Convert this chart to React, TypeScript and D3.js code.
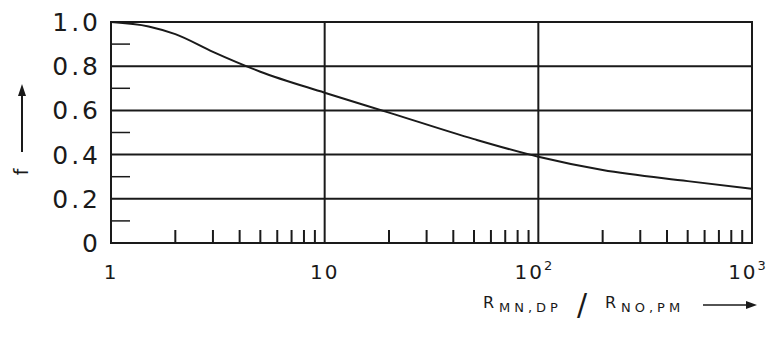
import * as d3 from "d3";
import { useEffect, useRef } from "react";

const ratios = [1, 1.5, 2, 3, 5, 10, 20, 50, 100, 200, 500, 1000];
const fValues = [1.0, 0.98, 0.945, 0.865, 0.775, 0.68, 0.59, 0.47, 0.39, 0.33, 0.28, 0.245];
const yTicks = [0, 0.2, 0.4, 0.6, 0.8, 1.0];
const yMinor = [0.1, 0.3, 0.5, 0.7, 0.9];
const xDecades = [1, 10, 100, 1000];
const xLabels = ["1", "10", "10", "10"];
const xSups = ["", "", "2", "3"];

const W = 782;
const H = 337;
const left = 111;
const right = 752;
const top = 22;
const bottom = 243;
const ink = "#1a1a1a";

export default function App() {
    const svgRef = useRef<SVGSVGElement>(null);

    useEffect(() => {
        if (svgRef.current) drawChart();
    }, [svgRef]);

    const drawChart = () => {
        const svg = d3.select(svgRef.current);
        svg.selectAll("*").remove();

        const scaleX = d3.scaleLog().domain([1, 1000]).range([left, right]);
        const scaleY = d3.scaleLinear().domain([0, 1]).range([bottom, top]);

        const g = svg.append("g");

        // horizontal grid lines
        g.selectAll("line.hgrid")
            .data(yTicks.slice(1))
            .enter()
            .append("line")
            .attr("x1", left)
            .attr("x2", right)
            .attr("y1", (d) => scaleY(d))
            .attr("y2", (d) => scaleY(d))
            .attr("stroke", ink)
            .attr("stroke-width", 2);

        // vertical grid lines at decades
        g.selectAll("line.vgrid")
            .data([10, 100])
            .enter()
            .append("line")
            .attr("x1", (d) => scaleX(d))
            .attr("x2", (d) => scaleX(d))
            .attr("y1", top)
            .attr("y2", bottom)
            .attr("stroke", ink)
            .attr("stroke-width", 2);

        // frame
        g.append("rect")
            .attr("x", left)
            .attr("y", top)
            .attr("width", right - left)
            .attr("height", bottom - top)
            .attr("fill", "none")
            .attr("stroke", ink)
            .attr("stroke-width", 2);

        // left minor ticks (inward)
        g.selectAll("line.yminor")
            .data(yMinor)
            .enter()
            .append("line")
            .attr("x1", left)
            .attr("x2", left + 19)
            .attr("y1", (d) => scaleY(d))
            .attr("y2", (d) => scaleY(d))
            .attr("stroke", ink)
            .attr("stroke-width", 1.5);

        // bottom minor ticks 2..9 per decade (inward)
        const minors: number[] = [];
        [1, 10, 100].forEach((dec) => {
            for (let k = 2; k <= 9; k++) minors.push(dec * k);
        });
        g.selectAll("line.xminor")
            .data(minors)
            .enter()
            .append("line")
            .attr("x1", (d) => scaleX(d))
            .attr("x2", (d) => scaleX(d))
            .attr("y1", bottom)
            .attr("y2", bottom - 13)
            .attr("stroke", ink)
            .attr("stroke-width", 2);

        // y tick labels
        g.selectAll("text.ylab")
            .data(yTicks)
            .enter()
            .append("text")
            .attr("x", 101)
            .attr("y", (d) => scaleY(d) + 9)
            .attr("text-anchor", "end")
            .attr("font-family", "DejaVu Sans")
            .attr("font-size", 25)
            .attr("letter-spacing", 3)
            .attr("fill", ink)
            .text((d) => (d === 0 ? "0" : d.toFixed(1)));

        // x tick labels
        xDecades.forEach((d, i) => {
            const t = g
                .append("text")
                .attr("x", scaleX(d) - (xSups[i] ? 4 : 0))
                .attr("y", 279)
                .attr("text-anchor", "middle")
                .attr("font-family", "DejaVu Sans")
                .attr("font-size", 20)
                .attr("letter-spacing", 2)
                .attr("fill", ink);
            t.append("tspan").text(xLabels[i]);
            if (xSups[i]) {
                t.append("tspan")
                    .attr("dy", -9)
                    .attr("font-size", 13)
                    .text(xSups[i]);
            }
        });

        // curve
        const line = d3
            .line<number>()
            .x((d, i) => scaleX(ratios[i]))
            .y((d) => scaleY(d))
            .curve(d3.curveMonotoneX);
        g.append("path")
            .datum(fValues)
            .attr("fill", "none")
            .attr("stroke", ink)
            .attr("stroke-width", 2)
            .attr("d", line);

        // y axis label: f with arrow up
        g.append("text")
            .attr("transform", "translate(28,172) rotate(-90)")
            .attr("text-anchor", "middle")
            .attr("font-family", "DejaVu Sans")
            .attr("font-size", 19)
            .attr("fill", ink)
            .text("f");
        g.append("line")
            .attr("x1", 22)
            .attr("x2", 22)
            .attr("y1", 152)
            .attr("y2", 92)
            .attr("stroke", ink)
            .attr("stroke-width", 2);
        g.append("path")
            .attr("d", "M22,84 L18,96 L26,96 Z")
            .attr("fill", ink);

        // x axis label: R_MN,DP / R_NO,PM ->
        const labelFont = (sel: any, size: number) =>
            sel.attr("font-family", "DejaVu Sans").attr("font-size", size).attr("fill", ink);
        labelFont(g.append("text").attr("x", 483).attr("y", 308).text("R"), 16);
        labelFont(g.append("text").attr("x", 499).attr("y", 312).attr("letter-spacing", 4).text("MN,DP"), 13);
        labelFont(g.append("text").attr("x", 577).attr("y", 315).text("/"), 30);
        labelFont(g.append("text").attr("x", 605).attr("y", 308).text("R"), 16);
        labelFont(g.append("text").attr("x", 621).attr("y", 312).attr("letter-spacing", 4).text("NO,PM"), 13);
        g.append("line")
            .attr("x1", 703)
            .attr("x2", 750)
            .attr("y1", 305)
            .attr("y2", 305)
            .attr("stroke", ink)
            .attr("stroke-width", 1.5);
        g.append("path")
            .attr("d", "M757,305 L746,301 L746,309 Z")
            .attr("fill", ink);
    };

    return (
        <svg
            ref={svgRef}
            width={W}
            height={H}
            style={{ position: "absolute", left: 0, top: 0, display: "block", background: "#fff" }}
        />
    );
}
